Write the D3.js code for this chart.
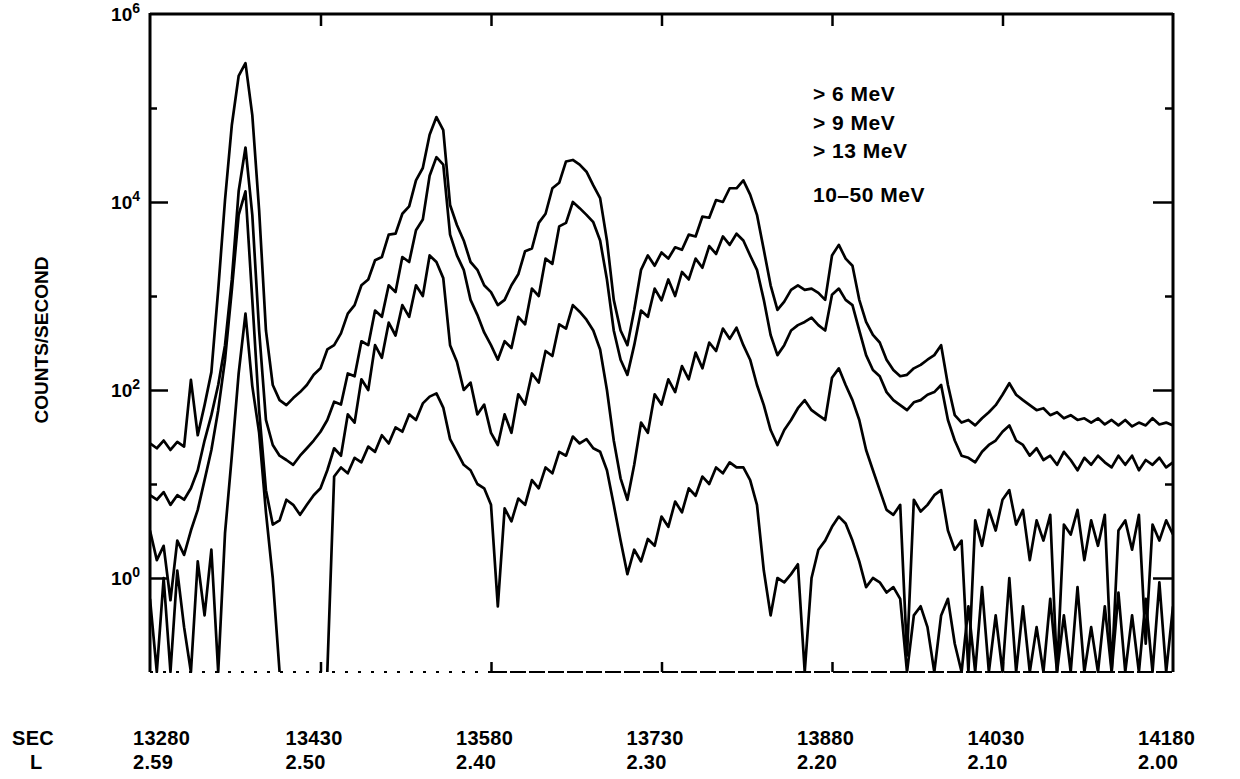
<!DOCTYPE html>
<html><head><meta charset="utf-8">
<script src="https://cdn.jsdelivr.net/npm/d3@7"></script>
<style>
body{margin:0;background:#fff}
svg{display:block}
text{font-family:"Liberation Sans",Arial,Helvetica,sans-serif;fill:#000}
</style>
</head><body>
<svg id="chart" width="1240" height="779"></svg>
<script>
// ---------- data ----------
const startSec = 13280;
const stepSec = 6;
const secTicks = [13280, 13430, 13580, 13730, 13880, 14030, 14180];
const lValues = ["2.59", "2.50", "2.40", "2.30", "2.20", "2.10", "2.00"];
const majorDecades = [1, 100, 1e4];
const minorDecades = [10, 1000, 1e5];
const labeledExponents = [0, 2, 4, 6];
const legendLabels = ["> 6 MeV", "> 9 MeV", "> 13 MeV", "10\u201350 MeV"];

// counts/second, one value every 6 s from 13280 s (0 = no counts, null = not plotted)
const gt6MeV = [
  27, 24, 29, 23, 28, 25, 128, 33, 69, 155,
  1160, 1.05e4, 6.6e4, 2.2e5, 3.0e5, 8.4e4, 8200, 430, 113, 78,
  69, 82, 95, 113, 145, 170, 270, 300, 400, 650,
  800, 1300, 1500, 2400, 2600, 4500, 4600, 7500, 9000, 1.7e4,
  2.3e4, 5.2e4, 8.0e4, 5.8e4, 9300, 5700, 3900, 2300, 1900, 1300,
  1100, 800, 910, 1300, 1700, 3000, 3200, 6000, 7500, 1.4e4,
  1.6e4, 2.7e4, 2.8e4, 2.5e4, 2.1e4, 1.5e4, 1.1e4, 3900, 910, 430,
  300, 710, 1900, 2700, 2100, 2900, 2500, 3300, 3100, 4500,
  4300, 7000, 6800, 1.05e4, 1.0e4, 1.4e4, 1.4e4, 1.7e4, 1.2e4, 7300,
  3100, 1300, 710, 870, 1160, 1300, 1160, 1200, 1080, 910,
  2700, 3500, 2500, 2100, 910, 530, 385, 320, 210, 163,
  140, 145, 170, 185, 210, 235, 300, 113, 54, 45,
  48, 42, 50, 58, 69, 89, 118, 89, 78, 69,
  61, 64, 54, 58, 50, 54, 48, 50, 45, 50,
  43, 48, 42, 48, 41, 45, 42, 50, 43, 45, 42
];
const gt9MeV = [
  7.6, 6.8, 8.2, 6.0, 7.6, 6.8, 9.0, 14, 29, 54,
  113, 300, 1500, 1.3e4, 3.8e4, 7300, 430, 48, 26, 20,
  18, 16, 20, 24, 29, 36, 48, 75, 70, 150,
  140, 330, 300, 700, 600, 1300, 1100, 2600, 2300, 5000,
  6500, 1.9e4, 3.0e4, 2.5e4, 4500, 2700, 1900, 910, 630, 410,
  300, 210, 330, 280, 600, 500, 1200, 1000, 2500, 2200,
  5500, 6000, 1.0e4, 8600, 7300, 6100, 3900, 1500, 430, 210,
  145, 300, 700, 600, 1200, 900, 1500, 1000, 1800, 1500,
  2500, 2000, 3400, 2800, 4300, 3500, 4600, 3900, 2700, 1900,
  910, 385, 235, 300, 430, 490, 530, 590, 490, 430,
  1030, 1200, 910, 800, 430, 235, 163, 140, 95, 78,
  69, 61, 74, 78, 89, 95, 113, 48, 29, 20,
  19, 17, 22, 26, 29, 36, 42, 29, 26, 20,
  24, 18, 20, 16, 22, 18, 14, 19, 16, 20,
  17, 15, 20, 16, 20, 14, 18, 16, 19, 15, 17
];
const gt13MeV = [
  3.2, 1.55, 2.2, 0.58, 2.5, 1.76, 3.2, 5.3, 11, 23,
  61, 210, 1160, 7300, 1.3e4, 910, 61, 8.6, 3.7, 4.1,
  6.8, 6.0, 4.7, 6.0, 7.6, 9.0, 14, 24, 20, 55,
  45, 130, 100, 300, 220, 520, 380, 800, 600, 1300,
  1000, 2700, 2300, 1550, 300, 200, 100, 120, 55, 70,
  35, 26, 55, 35, 90, 70, 150, 120, 260, 230,
  500, 450, 800, 680, 560, 430, 270, 100, 29, 11.5,
  6.8, 16, 45, 35, 90, 70, 130, 95, 180, 130,
  250, 170, 320, 260, 450, 350, 460, 300, 210, 113,
  69, 37.5, 26, 37.5, 48, 64, 78, 61, 54, 48,
  135, 170, 113, 78, 48, 23, 14, 8.6, 5.3, 4.7,
  6.0, 0.15, 6.8, 5.1, 6.0, 7.6, 8.6, 3.2, 2.0, 2.5,
  0, 4.1, 2.2, 5.3, 3.2, 6.8, 8.6, 3.7, 5.3, 1.55,
  4.1, 2.5, 4.7, 0, 3.7, 2.9, 5.3, 1.55, 4.1, 2.2,
  4.7, 0, 3.2, 4.1, 2.0, 4.7, 0.2, 3.7, 2.5, 4.1, 2.9
];
const mev10to50 = [
  0.6, 0, 1.0, 0, 1.2, 0.3, 0, 1.5, 0.4, 2.0,
  0, 3.0, 20, 150, 650, 110, 35, 5, 1.0, 0,
  null, null, null, null, null, null, 0, 12, 15, 13,
  19, 17, 25, 22, 33, 27, 40, 36, 55, 48,
  72, 85, 92, 65, 30, 22, 16, 14, 10, 9,
  6, 0.5, 5.5, 4.0, 7, 6, 11, 9, 15, 13,
  22, 20, 32, 27, 30, 24, 22, 14, 6, 2.5,
  1.1, 2.0, 1.5, 2.6, 2.2, 4.5, 3.5, 6.5, 5, 9,
  7.5, 12, 10, 15, 13, 17, 15, 15, 11, 6,
  1.2, 0.4, 1.0, 0.9, 1.1, 1.4, 0, 1.0, 2.0, 2.5,
  3.5, 4.5, 3.8, 2.5, 1.5, 0.8, 1.0, 0.9, 0.7, 0.8,
  0.6, 0, 0.4, 0.5, 0.3, 0, 0.4, 0.6, 0.2, 0,
  0.5, 0, 0.8, 0, 0.4, 0, 1.0, 0, 0.5, 0,
  0.3, 0, 0.6, 0, 0.4, 0, 0.8, 0, 0.3, 0,
  0.5, 0, 0.7, 0, 0.4, 0, 0.6, 0, 0.9, 0, 0.5
];
const seriesList = [gt6MeV, gt9MeV, gt13MeV, mev10to50];

// ---------- layout ----------
const plot = {left: 150, right: 1173, top: 14, bottom: 672};
const svg = d3.select("#chart");

const x = d3.scaleLinear().domain([secTicks[0], secTicks[secTicks.length - 1]]).range([plot.left, plot.right]);
const y = d3.scaleLog().domain([0.1, 1e6]).range([plot.bottom, plot.top]);
const floorVal = y.domain()[0];

svg.append("defs").append("clipPath").attr("id", "plotclip")
  .append("rect").attr("x", plot.left).attr("y", plot.top - 2)
  .attr("width", plot.right - plot.left).attr("height", plot.bottom - plot.top + 3);

// ---------- data lines ----------
const line = d3.line()
  .defined(d => d.v !== null)
  .x(d => x(d.t))
  .y(d => y(Math.max(d.v, floorVal)));

const gLines = svg.append("g").attr("clip-path", "url(#plotclip)");
seriesList.forEach(arr => {
  const pts = arr.map((v, i) => ({t: startSec + i * stepSec, v}));
  gLines.append("path").datum(pts)
    .attr("d", line)
    .attr("fill", "none")
    .attr("stroke", "#000")
    .attr("stroke-width", 2.7)
    .attr("stroke-linejoin", "round");
});

// ---------- frame ----------
const frame = svg.append("g").attr("stroke", "#000").attr("fill", "none");
frame.append("line").attr("x1", plot.left).attr("x2", plot.left).attr("y1", plot.top - 1).attr("y2", plot.bottom).attr("stroke-width", 3);
frame.append("line").attr("x1", plot.right).attr("x2", plot.right).attr("y1", plot.top - 1).attr("y2", plot.bottom).attr("stroke-width", 3);
frame.append("line").attr("x1", plot.left).attr("x2", plot.right).attr("y1", plot.top).attr("y2", plot.top).attr("stroke-width", 3);
frame.append("line").attr("x1", plot.left).attr("x2", x(secTicks[2])).attr("y1", plot.bottom).attr("y2", plot.bottom)
  .attr("stroke-width", 2).attr("stroke-dasharray", "3,10");
frame.append("line").attr("x1", x(secTicks[2])).attr("x2", plot.right).attr("y1", plot.bottom).attr("y2", plot.bottom)
  .attr("stroke-width", 2.2).attr("stroke-dasharray", "16,3");

// ---------- axes (ticks) ----------
function styleAxis(g) {
  g.select(".domain").remove();
  g.selectAll(".tick line").attr("stroke", "#000").attr("stroke-width", 2.5);
  g.selectAll(".tick text").remove();
}
svg.append("g").attr("transform", `translate(${plot.left},0)`)
  .call(d3.axisRight(y).tickValues(majorDecades).tickSize(18).tickFormat("")).call(styleAxis);
svg.append("g").attr("transform", `translate(${plot.left},0)`)
  .call(d3.axisRight(y).tickValues(minorDecades).tickSize(7).tickFormat("")).call(styleAxis);
svg.append("g").attr("transform", `translate(${plot.right},0)`)
  .call(d3.axisLeft(y).tickValues(majorDecades).tickSize(20).tickFormat("")).call(styleAxis);
svg.append("g").attr("transform", `translate(${plot.right},0)`)
  .call(d3.axisLeft(y).tickValues(minorDecades).tickSize(8).tickFormat("")).call(styleAxis);
const innerSec = secTicks.slice(1, -1);
svg.append("g").attr("transform", `translate(0,${plot.top})`)
  .call(d3.axisBottom(x).tickValues(innerSec).tickSize(12).tickFormat("")).call(styleAxis);
svg.append("g").attr("transform", `translate(0,${plot.bottom})`)
  .call(d3.axisTop(x).tickValues(innerSec).tickSize(10).tickFormat("")).call(styleAxis);

// ---------- y labels ----------
const yl = svg.append("g");
labeledExponents.forEach(e => {
  const t = yl.append("text")
    .attr("x", 140).attr("y", y(Math.pow(10, e)) + 7)
    .attr("text-anchor", "end")
    .attr("font-size", 19).attr("font-weight", "bold");
  t.append("tspan").text("10");
  t.append("tspan").attr("dy", -8).attr("font-size", 14).text(String(e));
});

svg.append("text")
  .attr("transform", "translate(48,340) rotate(-90)")
  .attr("text-anchor", "middle")
  .attr("font-size", 19).attr("font-weight", "bold")
  .text("COUNTS/SECOND");

// ---------- x labels ----------
const xl = svg.append("g").attr("font-size", 20).attr("font-weight", "bold").attr("letter-spacing", 0.3);
xl.append("text").attr("x", 12).attr("y", 745).text("SEC");
xl.append("text").attr("x", 30).attr("y", 769).text("L");
secTicks.forEach((s, i) => {
  const sx = x(s) + (i === 0 ? -17 : -35);
  xl.append("text").attr("x", sx).attr("y", 745).text(String(s));
  xl.append("text").attr("x", sx).attr("y", 769).text(lValues[i]);
});

// ---------- legend ----------
const legendY = [101, 130, 158, 202];
const lg = svg.append("g").attr("font-size", 21).attr("font-weight", "bold").attr("letter-spacing", 0.5);
legendLabels.forEach((lab, i) => {
  lg.append("text").attr("x", 813).attr("y", legendY[i]).attr("xml:space", "preserve").text(lab);
});
</script>
</body></html>
